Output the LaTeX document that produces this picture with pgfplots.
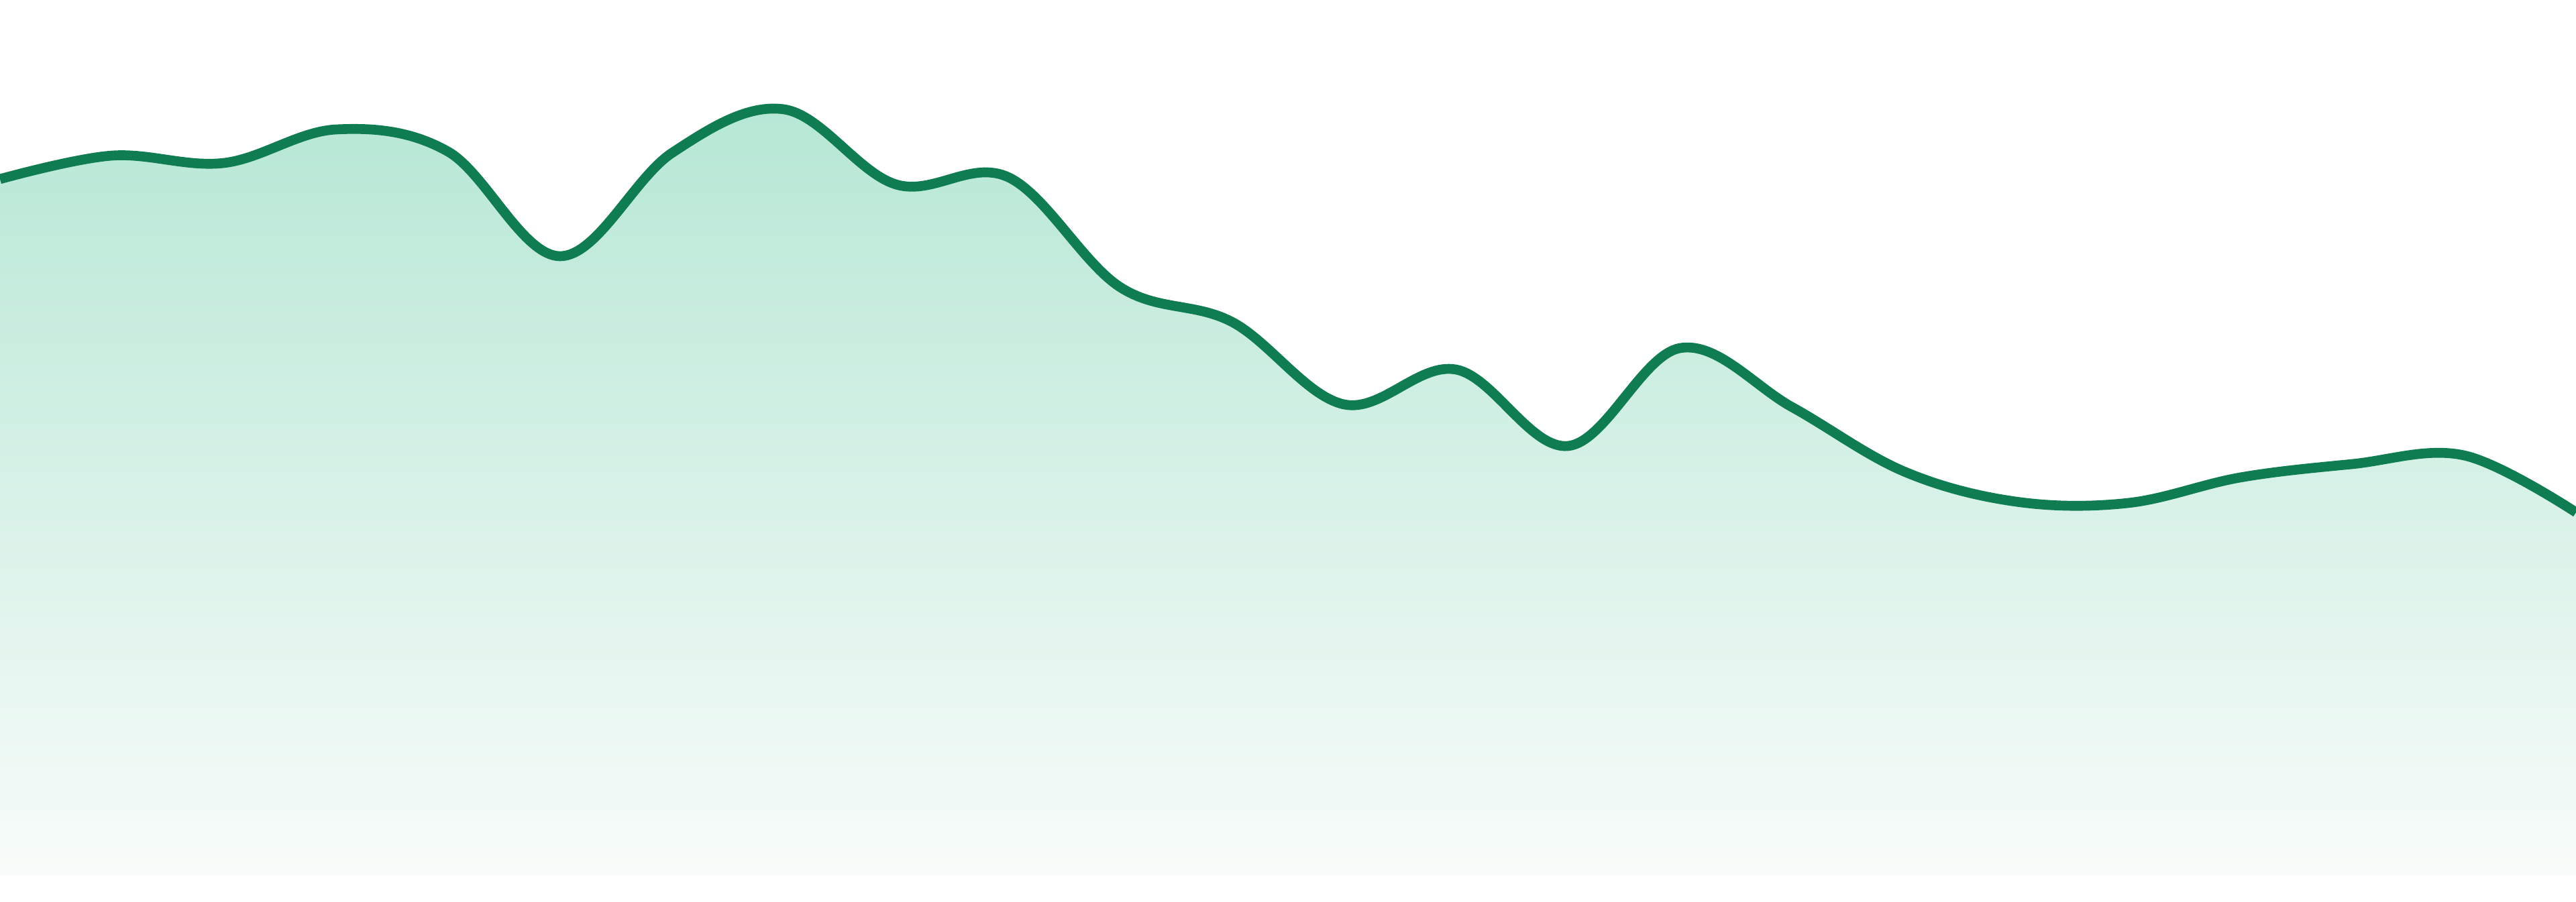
\documentclass[border=0pt]{standalone}
\usepackage{pgfplots}
\pgfplotsset{compat=1.18}
\definecolor{linegreen}{RGB}{16,124,82}
\definecolor{filltop}{RGB}{182,231,213}
\definecolor{fillbot}{RGB}{248,252,250}

% values (baseline at 0)
\pgfplotstableread{
x  y
0  1038
1  1073
2  1062
3  1112
4  1079
5  923
6  1077
7  1142
8  1030
9  1041
10 877
11 825
12 702
13 754
14 640
15 786
16 698
17 602
18 557
19 555
20 593
21 613
22 626
23 541
}\series

\begin{document}
\begin{tikzpicture}
\begin{axis}[
  width=576pt, height=201.6pt, scale only axis,
  hide axis,
  xmin=0, xmax=23, ymin=-39, ymax=1305,
  clip=true,
]
\addplot[draw=none, top color=filltop, bottom color=fillbot, smooth, tension=0.6]
  table[x=x, y=y] {\series} \closedcycle;
\addplot[linegreen, line width=2.2pt, smooth, tension=0.6]
  table[x=x, y=y] {\series};
\end{axis}
\pgfresetboundingbox
\path (current axis.south west) rectangle (current axis.north east);
\end{tikzpicture}
\end{document}
